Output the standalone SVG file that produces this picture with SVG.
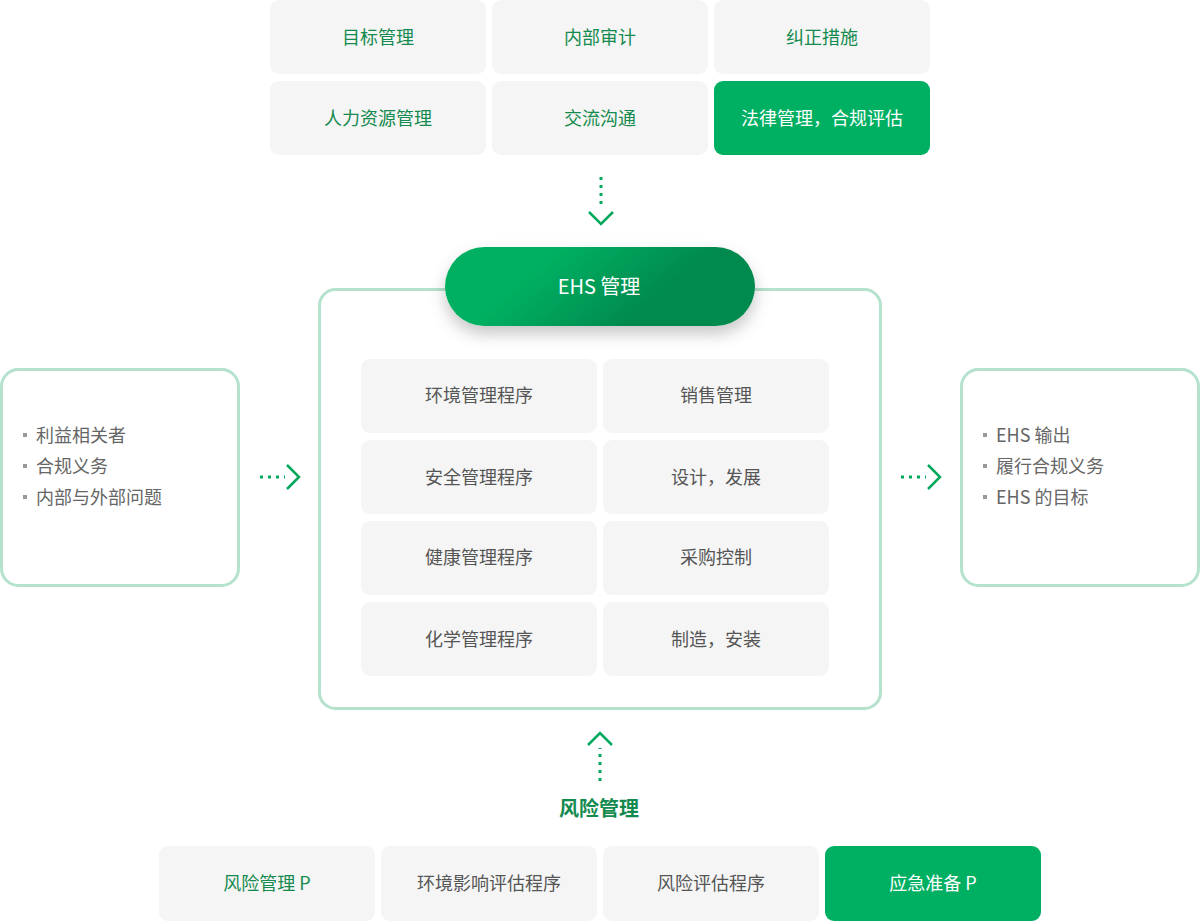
<svg xmlns="http://www.w3.org/2000/svg" width="1200" height="921" viewBox="0 0 1200 921">
<style>
text{font-family:"Noto Sans CJK SC","Noto Sans",sans-serif;font-size:18px;text-anchor:middle;dominant-baseline:central}
.cell{fill:#f5f5f5}
.hi{fill:#00b062}
.tg{fill:#138a4e}
.tw{fill:#ffffff}
.tk{fill:#555555}
.frame{fill:#ffffff;stroke:#b4e2cc;stroke-width:3}
.dot{fill:none;stroke:#00a85c;stroke-width:3;stroke-dasharray:3 5}
.chev{fill:none;stroke:#00a85c;stroke-width:2.5}
.bl{text-anchor:start;fill:#666666}
.sq{fill:#999999}
</style>
<defs>
<linearGradient id="g" x1="0" y1="0" x2="1" y2="0.3">
<stop offset="0.35" stop-color="#00b062"/>
<stop offset="0.8" stop-color="#008a4e"/>
</linearGradient>
<filter id="sh" x="-20%" y="-40%" width="140%" height="200%">
<feDropShadow dx="0" dy="8" stdDeviation="8" flood-color="#000" flood-opacity="0.22"/>
</filter>
</defs>

<g id="top">
<g id="t1"><rect class="cell" x="270" y="0" width="216" height="74" rx="9"/><text class="tg" x="378" y="36">目标管理</text></g>
<g id="t2"><rect class="cell" x="492" y="0" width="216" height="74" rx="9"/><text class="tg" x="600" y="36">内部审计</text></g>
<g id="t3"><rect class="cell" x="714" y="0" width="216" height="74" rx="9"/><text class="tg" x="822" y="36">纠正措施</text></g>
<g id="t4"><rect class="cell" x="270" y="81" width="216" height="74" rx="9"/><text class="tg" x="378" y="117">人力资源管理</text></g>
<g id="t5"><rect class="cell" x="492" y="81" width="216" height="74" rx="9"/><text class="tg" x="600" y="117">交流沟通</text></g>
<g id="t6"><rect class="hi" x="714" y="81" width="216" height="74" rx="9"/><text class="tw" x="822" y="117">法律管理，合规评估</text></g>
</g>

<g id="main">
<rect class="frame" x="319.5" y="289.5" width="561" height="419" rx="16"/>
<g id="c1"><rect class="cell" x="361" y="359" width="236" height="74" rx="9"/><text class="tk" x="479" y="394">环境管理程序</text></g>
<g id="c2"><rect class="cell" x="603" y="359" width="226" height="74" rx="9"/><text class="tk" x="716" y="394">销售管理</text></g>
<g id="c3"><rect class="cell" x="361" y="440" width="236" height="74" rx="9"/><text class="tk" x="479" y="476">安全管理程序</text></g>
<g id="c4"><rect class="cell" x="603" y="440" width="226" height="74" rx="9"/><text class="tk" x="716" y="476">设计，发展</text></g>
<g id="c5"><rect class="cell" x="361" y="521" width="236" height="74" rx="9"/><text class="tk" x="479" y="556">健康管理程序</text></g>
<g id="c6"><rect class="cell" x="603" y="521" width="226" height="74" rx="9"/><text class="tk" x="716" y="556">采购控制</text></g>
<g id="c7"><rect class="cell" x="361" y="602" width="236" height="74" rx="9"/><text class="tk" x="479" y="638">化学管理程序</text></g>
<g id="c8"><rect class="cell" x="603" y="602" width="226" height="74" rx="9"/><text class="tk" x="716" y="638">制造，安装</text></g>
</g>

<g id="ehs">
<rect x="445" y="247" width="310" height="79" rx="39.5" fill="url(#g)" filter="url(#sh)"/>
<text class="tw" x="599" y="285" style="font-size:20px">EHS 管理</text>
</g>

<g id="left">
<rect class="frame" x="1.5" y="369.5" width="237" height="216" rx="17"/>
<rect class="sq" x="23" y="433" width="4" height="4"/>
<text class="bl" x="36" y="434">利益相关者</text>
<rect class="sq" x="23" y="464" width="4" height="4"/>
<text class="bl" x="36" y="465">合规义务</text>
<rect class="sq" x="23" y="495" width="4" height="4"/>
<text class="bl" x="36" y="496">内部与外部问题</text>
</g>

<g id="right">
<rect class="frame" x="961.5" y="369.5" width="237" height="216" rx="17"/>
<rect class="sq" x="983" y="433" width="4" height="4"/>
<text class="bl" x="996" y="434">EHS 输出</text>
<rect class="sq" x="983" y="464" width="4" height="4"/>
<text class="bl" x="996" y="465">履行合规义务</text>
<rect class="sq" x="983" y="495" width="4" height="4"/>
<text class="bl" x="996" y="496">EHS 的目标</text>
</g>

<g id="risk-label">
<text x="599" y="807" style="font-size:20px;font-weight:bold;fill:#138a4e">风险管理</text>
</g>

<g id="bottom">
<g id="b1"><rect class="cell" x="159" y="846" width="216" height="75" rx="9"/><text class="tg" x="267" y="882">风险管理 P</text></g>
<g id="b2"><rect class="cell" x="381" y="846" width="216" height="75" rx="9"/><text class="tk" x="489" y="882">环境影响评估程序</text></g>
<g id="b3"><rect class="cell" x="603" y="846" width="216" height="75" rx="9"/><text class="tk" x="711" y="882">风险评估程序</text></g>
<g id="b4"><rect class="hi" x="825" y="846" width="216" height="75" rx="9"/><text class="tw" x="933" y="882">应急准备 P</text></g>
</g>

<g id="connectors">
<line class="dot" x1="601" y1="177" x2="601" y2="209"/>
<polyline class="chev" points="589,212 601,224 613,212"/>
<line class="dot" x1="600" y1="781" x2="600" y2="748"/>
<polyline class="chev" points="588,745 600,733 612,745"/>
<line class="dot" x1="260" y1="477" x2="285" y2="477"/>
<polyline class="chev" points="287,465 299,477 287,489"/>
<line class="dot" x1="901" y1="477" x2="926" y2="477"/>
<polyline class="chev" points="928,465 940,477 928,489"/>
</g>
</svg>
